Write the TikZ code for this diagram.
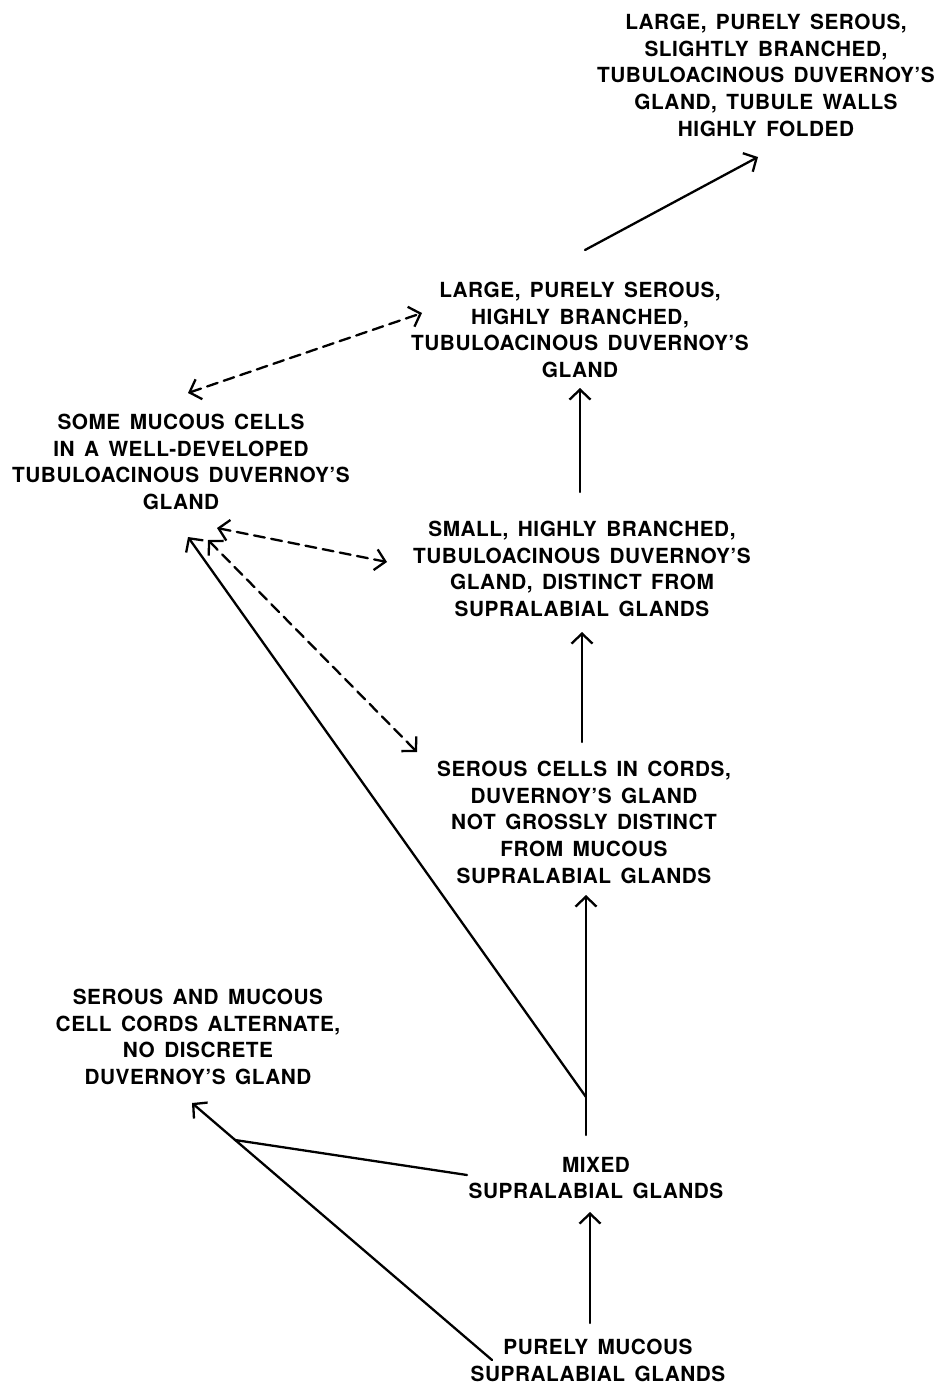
\documentclass[tikz,border=0pt]{standalone}
\usepackage{fontspec}
\setmainfont{TeX Gyre Heros}[BoldFeatures={FakeStretch=1.0, LetterSpace=2.5, WordSpace=1.5}]
\usetikzlibrary{arrows.meta}
\begin{document}
\begin{tikzpicture}[x=1pt,y=-1pt,
  lbl/.style={align=center, anchor=north, inner sep=0pt, font=\fontsize{20.8}{26.6}\selectfont\bfseries},
  conn/.style={line width=2.3pt, line cap=round},
  arr/.style={conn, -{Straight Barb[length=10pt,width=21pt]}},
  darr/.style={conn, {Straight Barb[length=10pt,width=21pt]}-{Straight Barb[length=10pt,width=21pt]}, dash pattern=on 11pt off 6.5pt}]
\fill[white] (0,0) rectangle (940,1386);
\useasboundingbox (0,0) rectangle (940,1386);

% texts
\node[lbl] (n1) at (766,14) {LARGE, PURELY SEROUS,\\SLIGHTLY BRANCHED,\\TUBULOACINOUS DUVERNOY’S\\GLAND, TUBULE WALLS\\HIGHLY FOLDED};
\node[lbl] (n2) at (580,282) {LARGE, PURELY SEROUS,\\HIGHLY BRANCHED,\\TUBULOACINOUS DUVERNOY’S\\GLAND};
\node[lbl] (n3) at (181,414) {SOME MUCOUS CELLS\\IN A WELL-DEVELOPED\\TUBULOACINOUS DUVERNOY’S\\GLAND};
\node[lbl] (n4) at (582,521) {SMALL, HIGHLY BRANCHED,\\TUBULOACINOUS DUVERNOY’S\\GLAND, DISTINCT FROM\\SUPRALABIAL GLANDS};
\node[lbl] (n5) at (584,761) {SEROUS CELLS IN CORDS,\\DUVERNOY’S GLAND\\NOT GROSSLY DISTINCT\\FROM MUCOUS\\SUPRALABIAL GLANDS};
\node[lbl] (n6) at (198,989) {SEROUS AND MUCOUS\\CELL CORDS ALTERNATE,\\NO DISCRETE\\DUVERNOY’S GLAND};
\node[lbl] (n7) at (596,1157) {MIXED\\SUPRALABIAL GLANDS};
\node[lbl] (n8) at (598,1339) {PURELY MUCOUS\\SUPRALABIAL GLANDS};

% connector end points
\coordinate (n2-out) at (585,250);
\coordinate (n1-in) at (758,157);
\coordinate (n4-out) at (580,492);
\coordinate (n2-in) at (580,388);
\coordinate (n5-out) at (582,742);
\coordinate (n4-in) at (582,632);
\coordinate (n7-out) at (586,1135);
\coordinate (n7-fork) at (586,1097);
\coordinate (n5-in) at (586,895);
\coordinate (n8-out) at (590,1323);
\coordinate (n7-in) at (590,1212);
\coordinate (n3-in) at (188,537);
\coordinate (n8-diag) at (492,1360);
\coordinate (n6-in) at (192,1103);
\coordinate (n7-left) at (467,1175);
\coordinate (join) at (235,1140);
\coordinate (n3-a) at (188,393);
\coordinate (n2-a) at (422,313);
\coordinate (n3-b) at (217,528);
\coordinate (n4-b) at (387,562);
\coordinate (n3-c) at (208,540);
\coordinate (n5-c) at (417,752);

% solid arrows
\draw[arr] (n2-out) -- (n1-in);
\draw[arr] (n4-out) -- (n2-in);
\draw[arr] (n5-out) -- (n4-in);
\draw[arr] (n7-out) -- (n5-in);
\draw[arr] (n8-out) -- (n7-in);
\draw[arr] (n7-fork) -- (n3-in);
\draw[arr] (n8-diag) -- (n6-in);
\draw[conn] (n7-left) -- (join);

% dashed double arrows
\draw[darr] (n3-a) -- (n2-a);
\draw[darr] (n3-b) -- (n4-b);
\draw[darr] (n3-c) -- (n5-c);
\end{tikzpicture}
\end{document}
